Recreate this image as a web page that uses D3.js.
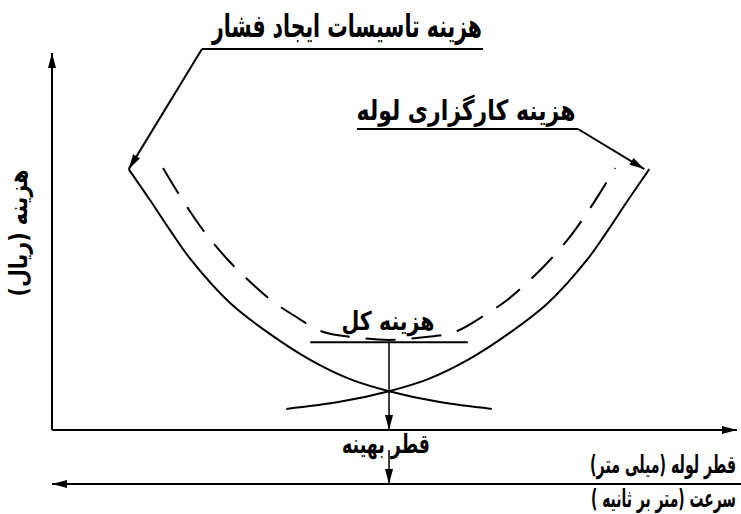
<!DOCTYPE html>
<html><head><meta charset="utf-8">
<script src="https://cdn.jsdelivr.net/npm/d3@7"></script>
<style>html,body{margin:0;padding:0;background:#fff;} svg{display:block}</style>
</head><body><svg id="c" width="741" height="514"></svg>
<script>
// ---- data (diameter in relative units, cost in relative units) ----
const pressureCost = [[11.2,69.2],[14.3,61.0],[17.2,53.1],[20.1,45.6],[26.0,33.7],[31.8,25.5],[37.7,18.6],[43.5,13.5],[49.2,10.3],[56.6,7.4],[64.2,5.6]];
const pipeCost = [[34.2,5.6],[41.8,7.4],[49.2,10.3],[54.9,13.5],[60.7,18.6],[66.6,25.5],[72.4,33.7],[78.3,45.6],[81.2,53.1],[84.1,61.0],[87.2,69.2]];
const totalCost = [[16.2,69.5],[18.4,62.9],[20.4,57.3],[22.6,51.7],[25.7,45.1],[28.8,39.5],[31.8,34.7],[35.2,30.5],[39.6,26.0],[44.2,24.6],[49.2,23.9],[54.2,24.6],[58.8,26.0],[63.2,30.5],[66.6,34.7],[69.6,39.5],[72.7,45.1],[75.8,51.7],[78.0,57.3],[80.0,62.9],[82.2,69.5]];
const optimum = {d: 49.2, total: 23.3, cross: 10.3, tangentFrom: 37.7, tangentTo: 60.7};
const labelPressure = "هزینه تاسیسات ایجاد فشار";
const labelPipe = "هزینه کارگزاری لوله";
const labelTotal = "هزینه کل";
const labelOptimum = "قطر بهینه";
const labelY = "هزینه (ریال)";
const labelX = "قطر لوله (میلی متر)";
const labelV = "سرعت (متر بر ثانیه )";

const svg = d3.select("#c");
const W = 741, H = 514;
const x = d3.scaleLinear().domain([0,100]).range([52,737]);
const y = d3.scaleLinear().domain([0,100]).range([430,53]);
const yV = 484; // velocity axis position

const defs = svg.append("defs");
defs.append("marker").attr("id","arr").attr("viewBox","-16 -5 17 10")
  .attr("refX",0).attr("refY",0).attr("markerWidth",17).attr("markerHeight",10)
  .attr("markerUnits","userSpaceOnUse").attr("orient","auto")
  .append("path").attr("d","M0,0L-15,-4L-15,4Z").attr("fill","#000");

const font = "'DejaVu Sans', sans-serif";
function line(x1,y1,x2,y2,arrow,w){
  const l = svg.append("line").attr("x1",x1).attr("y1",y1).attr("x2",x2).attr("y2",y2)
    .attr("stroke","#000").attr("stroke-width",w||2);
  if(arrow) l.attr("marker-end","url(#arr)");
  return l;
}
// text squeezed horizontally to a target length (narrow, tall bold glyphs as in the reference)
function text(t,tx,ty,size,len,anchor,rot){
  const el = svg.append("text").attr("x",0).attr("y",0).text(t)
    .attr("font-family",font).attr("font-weight","bold").attr("font-size",size)
    .attr("text-anchor",anchor||"middle").attr("direction","rtl").attr("fill","#000");
  const nat = el.node().getComputedTextLength();
  const sx = len / nat;
  el.attr("transform",`translate(${tx},${ty}) rotate(${rot||0}) scale(${sx},1)`);
  return el;
}

// axes
line(x(0), y(0), x(0), y(100), true);
line(x(0), y(0), x(100), y(0), true);
line(W, yV, x(0), yV, true);

// curves
const gen = d3.line().x(d=>x(d[0])).y(d=>y(d[1])).curve(d3.curveCatmullRom);
svg.append("path").attr("d",gen(pressureCost)).attr("fill","none").attr("stroke","#000").attr("stroke-width",2);
svg.append("path").attr("d",gen(pipeCost)).attr("fill","none").attr("stroke","#000").attr("stroke-width",2);
svg.append("path").attr("d",gen(totalCost)).attr("fill","none").attr("stroke","#000").attr("stroke-width",2)
  .attr("stroke-dasharray","30,16").attr("stroke-dashoffset",0);

// optimum
line(x(optimum.tangentFrom), y(optimum.total), x(optimum.tangentTo), y(optimum.total));
line(x(optimum.d), y(optimum.total), x(optimum.d), y(0), true, 1.5);
line(x(optimum.d), 450, x(optimum.d), yV, true, 1.5);

// leaders
const p0 = pressureCost[0], q1 = pipeCost[pipeCost.length-1];
line(202, 49, 483, 49);
line(202, 49, x(p0[0]), y(p0[1]), true);
line(357, 129, 578, 129);
line(578, 129, x(q1[0])-5, y(q1[1]), true);

// texts
text(labelPressure, 347, 37, 32, 270);
text(labelPipe, 466, 120, 28, 219);
text(labelTotal, 388, 330, 26, 93);
text(labelOptimum, 386, 453, 26, 88);
text(labelX, 736, 473, 25, 146, "start");
text(labelV, 736, 507, 25, 145, "start");
text(labelY, 27, 233, 25, 127, "middle", -90);
</script></body></html>
